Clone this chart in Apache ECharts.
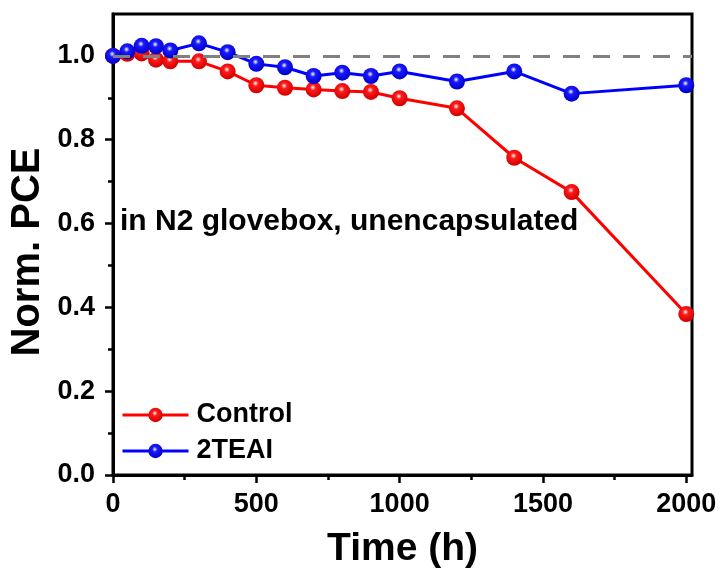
<!DOCTYPE html>
<html><head><meta charset="utf-8">
<script src="https://cdn.jsdelivr.net/npm/echarts@6/dist/echarts.min.js"></script>
<style>html,body{margin:0;padding:0;background:#fff}#c{width:724px;height:574px}</style>
</head><body><div id="c"></div>
<script>
const timeH = [0, 50, 100, 150, 200, 300, 400, 500, 600, 700, 800, 900, 1000, 1200, 1400, 1600, 2000];
const controlPCE = [1.0, 1.005, 1.006, 0.991, 0.987, 0.987, 0.963, 0.930, 0.924, 0.920, 0.916, 0.914, 0.899, 0.875, 0.757, 0.675, 0.384];
const teaiPCE = [1.0, 1.011, 1.024, 1.023, 1.013, 1.030, 1.009, 0.981, 0.973, 0.952, 0.960, 0.952, 0.963, 0.939, 0.963, 0.910, 0.930];
const seriesNames = ['Control', '2TEAI'];
const xMajorTicks = [0, 500, 1000, 1500, 2000];
const xMinorTicks = [250, 750, 1250, 1750];
const yMajorTicks = [0, 0.2, 0.4, 0.6, 0.8, 1.0];
const yMinorTicks = [0.1, 0.3, 0.5, 0.7, 0.9];
const referenceLevel = 1.0;
const annotation = 'in N2 glovebox, unencapsulated';
const xTitle = 'Time (h)';
const yTitle = 'Norm. PCE';

const FONT = '"Liberation Sans", Arial, sans-serif';
function sphere(base, dark) {
  return {type: 'radial', x: 0.45, y: 0.38, r: 0.6,
    colorStops: [{offset: 0, color: '#ffffff'}, {offset: 0.3, color: base}, {offset: 1, color: dark}]};
}
const chart = echarts.init(document.getElementById('c'), null, {renderer: 'canvas'});
const labelStyle = {color: '#000', fontSize: 27, fontWeight: 'bold', fontFamily: FONT};
const option = {
  animation: false,
  backgroundColor: '#fff',
  grid: {left: 113, right: 32, top: 14, bottom: 93, show: true, borderColor: '#000', borderWidth: 3},
  xAxis: [{
    type: 'value', min: 0, max: 2020, position: 'bottom',
    name: xTitle, nameLocation: 'middle', nameGap: 55,
    nameTextStyle: {color: '#000', fontSize: 39, fontWeight: 'bold', fontFamily: FONT},
    axisLine: {show: true, lineStyle: {color: '#000', width: 3}},
    axisTick: {show: true, length: 8, customValues: xMajorTicks, lineStyle: {color: '#000', width: 2.5}},
    axisLabel: Object.assign({customValues: xMajorTicks, margin: 16, formatter: v => String(v)}, labelStyle),
    splitLine: {show: false}
  }, {
    type: 'value', min: 0, max: 2020, position: 'bottom',
    axisLine: {show: false},
    axisTick: {show: true, length: 5, customValues: xMinorTicks, lineStyle: {color: '#000', width: 2.5}},
    axisLabel: {show: false}, splitLine: {show: false}
  }],
  yAxis: [{
    type: 'value', min: 0, max: 1.1, position: 'left',
    axisLine: {show: true, lineStyle: {color: '#000', width: 3}},
    axisTick: {show: true, length: 8, customValues: yMajorTicks, lineStyle: {color: '#000', width: 2.5}},
    axisLabel: Object.assign({customValues: yMajorTicks, margin: 18, formatter: v => v.toFixed(1)}, labelStyle),
    splitLine: {show: false}
  }, {
    type: 'value', min: 0, max: 1.1, position: 'left',
    axisLine: {show: false},
    axisTick: {show: true, length: 5, customValues: yMinorTicks, lineStyle: {color: '#000', width: 2.5}},
    axisLabel: {show: false}, splitLine: {show: false}
  }],
  legend: {
    orient: 'vertical', left: 116, top: 396, itemWidth: 66, itemHeight: 18, itemGap: 8,
    data: seriesNames,
    lineStyle: {width: 3},
    textStyle: {color: '#000', fontSize: 27, fontWeight: 'bold', fontFamily: FONT, lineHeight: 28, padding: [0, 0, 0, 3]}
  },
  graphic: [{
    type: 'text', x: 120, y: 222, z: 10,
    style: {text: annotation, fill: '#000', font: 'bold 30px ' + FONT, verticalAlign: 'middle', align: 'left'}
  }, {
    type: 'text', x: 28, y: 252, rotation: Math.PI / 2, z: 10,
    style: {text: yTitle, fill: '#000', font: 'bold 40px ' + FONT, verticalAlign: 'middle', align: 'center'}
  }],
  series: [{
    name: seriesNames[0], type: 'line', xAxisIndex: 0, yAxisIndex: 0,
    data: timeH.map((t, i) => [t, controlPCE[i]]),
    symbol: 'circle', symbolSize: 16,
    lineStyle: {color: '#ff0000', width: 3},
    itemStyle: {color: sphere('#ff1a1a', '#d00000'), borderWidth: 0},
    markLine: {silent: true, symbol: 'none', label: {show: false},
      lineStyle: {color: '#808080', width: 3, type: [17, 13]},
      data: [{yAxis: referenceLevel}]}
  }, {
    name: seriesNames[1], type: 'line', xAxisIndex: 0, yAxisIndex: 0,
    data: timeH.map((t, i) => [t, teaiPCE[i]]),
    symbol: 'circle', symbolSize: 16,
    lineStyle: {color: '#0000ff', width: 3},
    itemStyle: {color: sphere('#1a1aff', '#0000c8'), borderWidth: 0}
  }]
};
chart.setOption(option);
</script>
</body></html>
